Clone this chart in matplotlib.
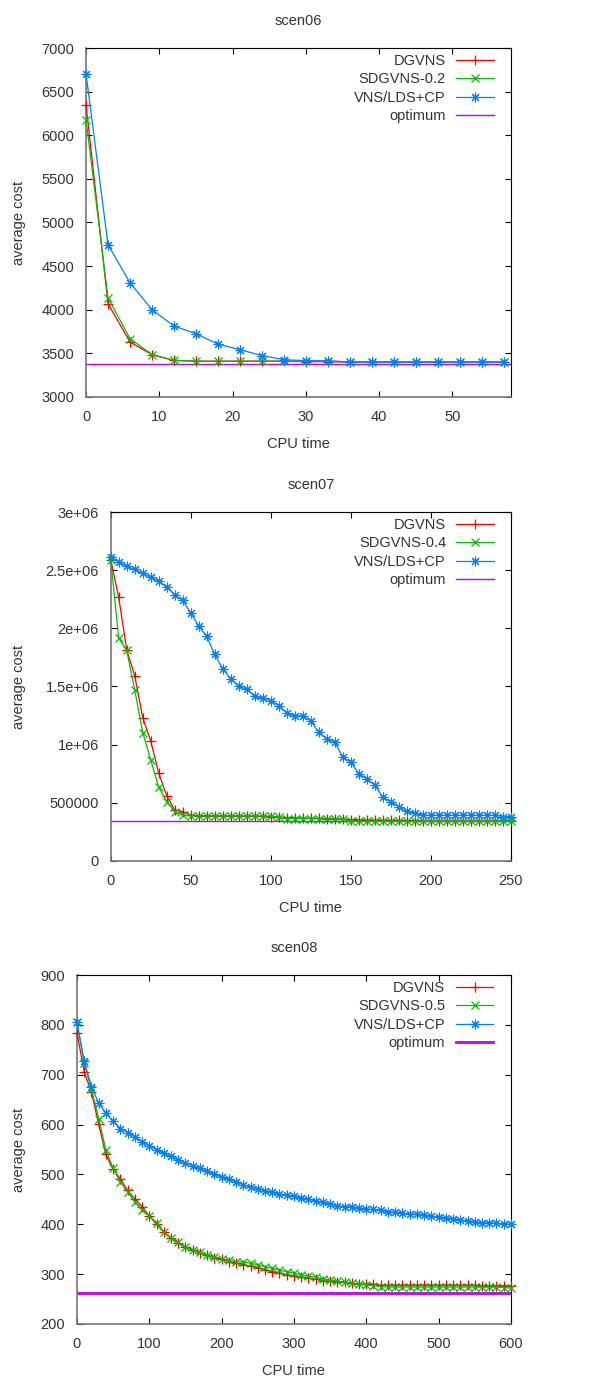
import matplotlib
matplotlib.use("Agg")
import matplotlib.pyplot as plt
import numpy as np

plt.rcParams['font.family'] = ['Liberation Sans', 'DejaVu Sans']

# ---------------- scen06 ----------------
t6 = [0, 3, 6, 9, 12, 15, 18, 21, 24, 27, 30, 33, 36, 39, 42, 45, 48, 51, 54, 57]
dgvns6 = [6350, 4070, 3630, 3485, 3420, 3410, 3410, 3410, 3410, 3410,
          3405, 3405, 3400, 3400, 3400, 3400, 3400, 3400, 3400, 3400]
sdgvns6 = [6180, 4135, 3670, 3485, 3420, 3410, 3410, 3410, 3410, 3410,
           3410, 3410, 3400, 3400, 3400, 3400, 3400, 3400, 3400, 3400]
vns6 = [6705, 4746, 4310, 4001, 3814, 3726, 3607, 3543, 3474, 3428,
        3416, 3416, 3401, 3400, 3400, 3400, 3400, 3400, 3400, 3400]
opt6 = 3382

# ---------------- scen07 ----------------
t7 = list(range(0, 251, 5))
dgvns7 = [2.590e6, 2.266e6, 1.815e6, 1.592e6, 1.233e6, 1.032e6, 0.754e6, 0.559e6, 0.439e6, 0.424e6,
          0.393e6, 0.390e6, 0.388e6, 0.387e6, 0.387e6, 0.387e6, 0.387e6, 0.386e6, 0.385e6, 0.383e6,
          0.381e6, 0.378e6, 0.373e6, 0.371e6, 0.369e6, 0.367e6, 0.366e6, 0.364e6, 0.363e6, 0.361e6,
          0.356e6, 0.354e6, 0.352e6, 0.350e6, 0.349e6, 0.348e6, 0.348e6, 0.347e6, 0.347e6, 0.344e6,
          0.344e6, 0.344e6, 0.344e6, 0.344e6, 0.344e6, 0.344e6, 0.344e6, 0.344e6, 0.344e6, 0.344e6,
          0.344e6]
sdgvns7 = [2.590e6, 1.916e6, 1.810e6, 1.471e6, 1.104e6, 0.869e6, 0.634e6, 0.510e6, 0.424e6, 0.393e6,
           0.387e6, 0.387e6, 0.387e6, 0.387e6, 0.387e6, 0.387e6, 0.387e6, 0.387e6, 0.387e6, 0.387e6,
           0.386e6, 0.376e6, 0.364e6, 0.364e6, 0.364e6, 0.364e6, 0.362e6, 0.362e6, 0.361e6, 0.360e6,
           0.340e6, 0.340e6, 0.340e6, 0.340e6, 0.340e6, 0.340e6, 0.340e6, 0.340e6, 0.340e6, 0.340e6,
           0.340e6, 0.340e6, 0.340e6, 0.340e6, 0.340e6, 0.340e6, 0.340e6, 0.340e6, 0.340e6, 0.340e6,
           0.340e6]
vns7 = [2.613e6, 2.572e6, 2.532e6, 2.506e6, 2.472e6, 2.440e6, 2.406e6, 2.354e6, 2.288e6, 2.240e6,
        2.131e6, 2.019e6, 1.930e6, 1.775e6, 1.652e6, 1.566e6, 1.500e6, 1.477e6, 1.414e6, 1.402e6,
        1.379e6, 1.336e6, 1.270e6, 1.247e6, 1.247e6, 1.204e6, 1.107e6, 1.047e6, 1.021e6, 0.892e6,
        0.849e6, 0.751e6, 0.705e6, 0.651e6, 0.548e6, 0.508e6, 0.467e6, 0.427e6, 0.410e6, 0.393e6,
        0.393e6, 0.393e6, 0.393e6, 0.393e6, 0.393e6, 0.393e6, 0.393e6, 0.393e6, 0.393e6, 0.381e6,
        0.381e6]
opt7 = 0.344e6

# ---------------- scen08 ----------------
t8 = list(range(0, 601, 10))
dgvns8 = [784, 706, 665, 601, 540, 510, 491, 468, 451, 435,
          417, 400, 384, 372, 363, 354, 348, 343, 338, 333,
          330, 325, 322, 319, 316, 313, 308, 305, 302, 298,
          296, 294, 292, 290, 287, 286, 285, 284, 282, 280,
          280, 280, 278, 278, 278, 278, 278, 278, 278, 278,
          278, 278, 278, 278, 278, 278, 277, 277, 277, 277,
          277]
sdgvns8 = [805, 723, 671, 612, 549, 512, 485, 465, 445, 429,
           417, 402, 385, 373, 364, 355, 349, 344, 338, 335,
           331, 328, 325, 324, 322, 319, 315, 312, 308, 305,
           302, 298, 296, 294, 290, 288, 286, 284, 282, 280,
           278, 277, 275, 274, 274, 274, 274, 274, 274, 274,
           274, 274, 274, 274, 274, 274, 274, 274, 274, 273,
           272]
vns8 = [805, 728, 676, 643, 623, 607, 592, 584, 576, 566,
        558, 550, 542, 536, 529, 523, 517, 512, 506, 500,
        495, 490, 485, 479, 475, 471, 467, 464, 461, 458,
        456, 453, 450, 447, 444, 441, 437, 435, 435, 432,
        430, 430, 428, 425, 424, 422, 421, 420, 418, 416,
        415, 413, 411, 409, 407, 405, 403, 403, 402, 401,
        400]
opt8 = 262

RED = '#ff0000'
GREEN = '#00c000'
BLUE = '#0080ff'
PURPLE = '#c000ff'
TXT = '#333333'
FS = 10.5

ast = (8, 2, 0)

W, H = 592, 1376
fig = plt.figure(figsize=(W / 100, H / 100), dpi=100)

panels = [
    dict(pos=[0.1453, 0.7115, 0.7177, 0.2536], t=t6, d=dgvns6, s=sdgvns6, v=vns6, o=opt6,
         title='scen06', sname='SDGVNS-0.2', xlim=(0, 58), ylim=(3000, 7000),
         xt=[0, 10, 20, 30, 40, 50], yt=list(range(3000, 7001, 500)), ytl=None, olw=1.0),
    dict(pos=[0.1870, 0.3743, 0.6760, 0.2536], t=t7, d=dgvns7, s=sdgvns7, v=vns7, o=opt7,
         title='scen07', sname='SDGVNS-0.4', xlim=(0, 250), ylim=(0, 3e6),
         xt=[0, 50, 100, 150, 200, 250], yt=[0, 5e5, 1e6, 1.5e6, 2e6, 2.5e6, 3e6],
         ytl=['0', '500000', '1e+06', '1.5e+06', '2e+06', '2.5e+06', '3e+06'], olw=1.0),
    dict(pos=[0.1300, 0.0378, 0.7330, 0.2536], t=t8, d=dgvns8, s=sdgvns8, v=vns8, o=opt8,
         title='scen08', sname='SDGVNS-0.5', xlim=(0, 600), ylim=(200, 900),
         xt=[0, 100, 200, 300, 400, 500, 600], yt=list(range(200, 901, 100)), ytl=None, olw=2.0),
]

for p in panels:
    ax = fig.add_axes(p['pos'])
    lw = 0.9
    ax.plot(p['t'], p['d'], color=RED, lw=lw, marker='+', ms=7, mew=0.9, label='DGVNS', clip_on=False, zorder=3)
    ax.plot(p['t'], p['s'], color=GREEN, lw=lw, marker='x', ms=5.5, mew=0.9, label=p['sname'], clip_on=False, zorder=3)
    ax.plot(p['t'], p['v'], color=BLUE, lw=lw, marker=ast, ms=7, mew=0.8, label='VNS/LDS+CP', clip_on=False, zorder=3)
    ax.axhline(p['o'], color=PURPLE, lw=p['olw'], label='optimum', zorder=2)
    ax.set_xlim(*p['xlim'])
    ax.set_ylim(*p['ylim'])
    ax.set_xticks(p['xt'])
    ax.set_yticks(p['yt'])
    if p['ytl'] is not None:
        ax.set_yticklabels(p['ytl'])
    ax.tick_params(direction='in', top=True, right=True, length=4, width=0.8,
                   labelsize=FS, labelcolor=TXT)
    ax.tick_params(axis='x', pad=9.5)
    ax.tick_params(axis='y', pad=8.5)
    for side in ['left', 'bottom']:
        ax.spines[side].set_color('#777777')
        ax.spines[side].set_linewidth(1.2)
    for side in ['top', 'right']:
        ax.spines[side].set_color('#000000')
        ax.spines[side].set_linewidth(0.8)
    ax.set_title(p['title'], fontsize=FS, color=TXT, pad=16.5)
    ax.set_xlabel('CPU time', fontsize=FS, color=TXT, labelpad=9)
    ax.set_ylabel('average cost', fontsize=FS, color=TXT)
    ax.yaxis.set_label_coords(26 / W, p['pos'][1] + p['pos'][3] / 2, transform=fig.transFigure)
    leg = ax.legend(loc='upper right', bbox_to_anchor=(0.98, 1.008), frameon=False,
                    markerfirst=False, fontsize=FS, handlelength=2.6, handletextpad=0.7,
                    labelspacing=0.3, borderaxespad=0.2)
    for t in leg.get_texts():
        t.set_color(TXT)

fig.savefig('out.png', dpi=100)
